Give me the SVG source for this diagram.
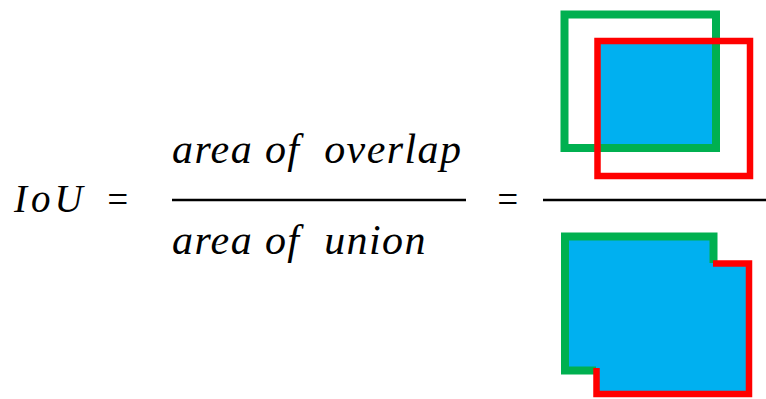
<svg xmlns="http://www.w3.org/2000/svg" width="766" height="399" viewBox="0 0 766 399">
<style>
.bar{stroke:#000;stroke-width:2.5;}
.g{fill:none;stroke:#00B050;stroke-width:8;}
.r{fill:none;stroke:#FF0000;stroke-width:6.5;}
.blue{fill:#00B0F0;}
</style>
<rect width="766" height="399" fill="#fff"/>
<g id="formula" fill="#000">
<text x="14" y="212" font-size="39" font-family="Liberation Serif" font-style="italic" letter-spacing="4">IoU</text>
<text x="105" y="212" font-size="37" font-family="Liberation Serif" font-style="italic">=</text>
<text x="172" y="163" font-size="42" font-family="Liberation Serif" font-style="italic" letter-spacing="1.4" xml:space="preserve">area of  overlap</text>
<line class="bar" x1="172" y1="200" x2="466" y2="200"/>
<text x="172" y="254" font-size="42" font-family="Liberation Serif" font-style="italic" letter-spacing="1.4" xml:space="preserve">area of  union</text>
<text x="495" y="212" font-size="37" font-family="Liberation Serif" font-style="italic">=</text>
<line class="bar" x1="543" y1="200" x2="766" y2="200"/>
</g>
<g id="overlap">
<rect class="blue" x="598" y="41" width="118" height="107"/>
<rect class="g" x="564.5" y="14.5" width="151.5" height="133.5"/>
<rect class="r" x="597.5" y="41" width="152.5" height="135"/>
</g>
<g id="union">
<path class="blue" d="M564 236 H714 V263 H749 V394 H596 V371 H564 Z"/>
<path class="g" d="M596 370.5 H565 V236.5 H713.5 V263"/>
<path class="r" d="M713 263.5 H749 V394 H596.5 V368"/>
</g>
</svg>
